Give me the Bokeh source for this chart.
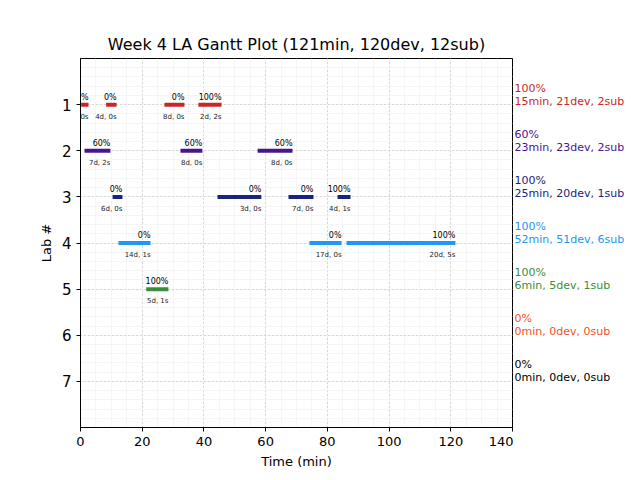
from bokeh.plotting import figure
from bokeh.layouts import row
from bokeh.models import (ColumnDataSource, LabelSet, Range1d, FixedTicker,
                          SingleIntervalTicker, LinearAxis)
from bokeh.core.properties import value
from bokeh.embed import file_html
from bokeh.resources import INLINE

# ---- data ----
labs = [1, 2, 3, 4, 5, 6, 7]
lab_colors = ["#c62828", "#4a148c", "#1a237e", "#2196f3", "#388e3c", "#f4511e", "#000000"]
lab_pct = ["100%", "60%", "100%", "100%", "100%", "0%", "0%"]
lab_summary = ["15min, 21dev, 2sub", "23min, 23dev, 2sub", "25min, 20dev, 1sub",
               "52min, 51dev, 6sub", "6min, 5dev, 1sub", "0min, 0dev, 0sub",
               "0min, 0dev, 0sub"]

seg_lab = [1, 1, 1, 1, 2, 2, 2, 3, 3, 3, 3, 4, 4, 4, 5]
seg_start = [0.2, 8.3, 27.2, 38.2, 1.3, 32.4, 57.4, 10.4, 44.4, 67.4, 83.3, 12.3, 74.2, 86.2, 21.3]
seg_end = [2.6, 11.7, 33.7, 45.7, 9.7, 39.5, 68.7, 13.6, 58.6, 75.5, 87.5, 22.7, 84.6, 121.5, 28.5]
seg_pct = ["0%", "0%", "0%", "100%", "60%", "60%", "60%", "0%", "0%", "0%", "100%",
           "0%", "0%", "100%", "100%"]
seg_info = ["7d, 0s", "4d, 0s", "8d, 0s", "2d, 2s", "7d, 2s", "8d, 0s", "8d, 0s",
            "6d, 0s", "3d, 0s", "7d, 0s", "4d, 1s", "14d, 1s", "17d, 0s", "20d, 5s", "5d, 1s"]

title = "Week 4 LA Gantt Plot (121min, 120dev, 12sub)"
x_label = "Time (min)"
y_label = "Lab #"
x_max = 140

FONT = "DejaVu Sans"

# layout geometry
FRAME_W = 432
LEFT = 80
RIGHT_PAD = 1
SIDE_W = 632 - LEFT - FRAME_W - RIGHT_PAD
px_per_unit = FRAME_W / x_max

seg_src = ColumnDataSource(dict(
    y=seg_lab, x0=seg_start, x1=seg_end, pct=seg_pct, info=seg_info,
    color=[lab_colors[l - 1] for l in seg_lab]))

y_range = Range1d(8, 0)

p = figure(width=LEFT + FRAME_W + RIGHT_PAD, height=472, output_backend="svg",
           toolbar_location=None, x_range=Range1d(0, x_max), y_range=y_range,
           min_border_left=LEFT, min_border_right=RIGHT_PAD, min_border_top=58,
           min_border_bottom=45, title=title)

p.title.text_font = FONT
p.title.text_font_size = "16px"
p.title.text_font_style = "normal"
p.title.text_color = "black"
p.title.align = "center"

p.outline_line_color = "black"
p.outline_line_width = 1
p.background_fill_color = "white"
p.border_fill_color = "white"

p.xaxis.ticker = SingleIntervalTicker(interval=20, num_minor_ticks=4)
p.yaxis.ticker = FixedTicker(ticks=labs, minor_ticks=[i * 0.2 for i in range(41)])


def style_axis(ax):
    ax.axis_line_color = "black"
    ax.major_tick_line_color = "black"
    ax.major_tick_out = 4
    ax.major_tick_in = 0
    ax.minor_tick_line_color = None
    ax.major_label_text_font = FONT
    ax.axis_label_text_font = FONT
    ax.axis_label_text_font_style = "normal"
    ax.axis_label_text_font_size = "13px"
    ax.axis_label_text_color = "black"
    ax.major_label_text_color = "black"


for ax in (p.xaxis[0], p.yaxis[0]):
    style_axis(ax)

p.xaxis.axis_label = x_label
p.yaxis.axis_label = y_label
p.xaxis.major_label_text_font_size = "13px"
p.yaxis.major_label_text_font_size = "15px"

for g in (p.xgrid[0], p.ygrid[0]):
    g.grid_line_color = "#b8b8b8"
    g.grid_line_dash = "1 3"
    g.grid_line_width = 1
    g.minor_grid_line_color = "#f5f5f5"
    g.minor_grid_line_width = 1

p.segment(x0="x0", y0="y", x1="x1", y1="y", line_color="color", line_width=4,
          line_cap="butt", source=seg_src)

p.add_layout(LabelSet(x="x1", y="y", text="pct", source=seg_src, text_align="right",
                      text_baseline="bottom", y_offset=3, text_font=value(FONT),
                      text_font_size="8px", text_color="black"))
p.add_layout(LabelSet(x="x1", y="y", text="info", source=seg_src, text_align="right",
                      text_baseline="top", y_offset=-8, text_font=value(FONT),
                      text_font_size="7px", text_color="#222222"))

# right-hand side panel (continues the x scale) with per-lab summaries
side_x0 = x_max + RIGHT_PAD / px_per_unit
side_x1 = side_x0 + SIDE_W / px_per_unit
lab_src = ColumnDataSource(dict(
    y=labs, x=[x_max] * len(labs), pct=lab_pct, summary=lab_summary, color=lab_colors))

side = figure(width=SIDE_W, height=472, output_backend="svg", toolbar_location=None,
              x_range=Range1d(side_x0, side_x1), y_range=y_range,
              min_border_left=0, min_border_right=0, min_border_top=58,
              min_border_bottom=45, title=" ", x_axis_location=None, y_axis_location=None)
side.title.text_font_size = "16px"
side.grid.visible = False
side.outline_line_color = None
side.background_fill_color = "white"
side.border_fill_color = "white"

# the rest of the "140" tick label that spills past the main canvas
tail_axis = LinearAxis(ticker=FixedTicker(ticks=[x_max]))
style_axis(tail_axis)
tail_axis.axis_line_color = None
tail_axis.major_tick_line_color = None
tail_axis.major_label_text_font_size = "13px"
tail_axis.major_label_standoff = 6
side.add_layout(tail_axis, "below")

side.add_layout(LabelSet(x="x", y="y", text="summary", source=lab_src, text_align="left",
                         text_baseline="bottom", x_offset=2, y_offset=-3,
                         text_font=value(FONT), text_font_size="11px", text_color="color"))
side.add_layout(LabelSet(x="x", y="y", text="pct", source=lab_src, text_align="left",
                         text_baseline="bottom", x_offset=2, y_offset=10,
                         text_font=value(FONT), text_font_size="11px", text_color="color"))

layout = row(p, side, spacing=0)
open("out.html", "w").write(file_html(layout, INLINE))
